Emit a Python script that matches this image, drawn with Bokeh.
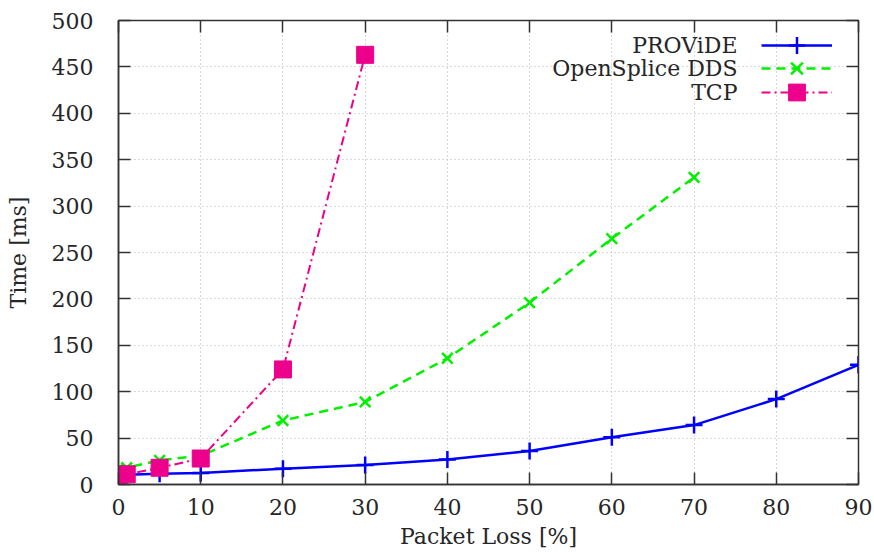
from bokeh.plotting import figure
from bokeh.models import (Range1d, FixedTicker, LinearAxis, Legend, LegendItem, Label,
                          CustomJSTickFormatter)
from bokeh.embed import file_html
from bokeh.resources import INLINE

# ---- data ----
loss_provide = [0, 1, 5, 10, 20, 30, 40, 50, 60, 70, 80, 90]
time_provide = [10, 10.5, 11.5, 12.5, 17, 21, 27, 36, 51, 64, 92, 129]

loss_ospl = [0, 1, 5, 10, 20, 30, 40, 50, 60, 70]
time_ospl = [17, 18, 26, 31, 69, 89, 136, 196, 265, 331]

loss_tcp = [0, 1, 5, 10, 20, 30]
time_tcp = [10, 11, 18, 28, 124, 463]

x_ticks = [0, 10, 20, 30, 40, 50, 60, 70, 80, 90]
y_ticks = [0, 50, 100, 150, 200, 250, 300, 350, 400, 450, 500]
series_names = ["PROViDE", "OpenSplice DDS", "TCP"]
x_title = "Packet Loss [%]"
y_title = "Time [ms]"

FONT = "DejaVu Serif"
FS = "22px"
TXT = "#262626"
AX = "#333333"

p = figure(width=874, height=552, output_backend="svg", toolbar_location=None,
           x_range=Range1d(0, 90), y_range=Range1d(0, 500),
           min_border_left=118, min_border_right=16, min_border_top=20,
           min_border_bottom=68)
p.background_fill_color = "white"
p.border_fill_color = "white"
p.outline_line_color = AX
p.outline_line_width = 1.5

for ax in (p.xaxis[0], p.yaxis[0]):
    ax.major_label_text_font = FONT
    ax.major_label_text_font_size = FS
    ax.major_label_text_color = TXT
    ax.axis_label_text_font = FONT
    ax.axis_label_text_font_size = FS
    ax.axis_label_text_font_style = "normal"
    ax.axis_label_text_color = TXT
    ax.major_tick_in = 12
    ax.major_tick_out = 0
    ax.minor_tick_line_color = None
    ax.major_tick_line_color = AX
    ax.major_tick_line_width = 1.5
    ax.axis_line_color = AX
    ax.axis_line_width = 1.5

p.xaxis[0].ticker = FixedTicker(ticks=x_ticks)
p.yaxis[0].ticker = FixedTicker(ticks=y_ticks)
p.xaxis[0].axis_label = x_title
p.yaxis[0].axis_label = y_title
p.xaxis[0].major_label_standoff = 14
p.xaxis[0].axis_label_standoff = 6
p.yaxis[0].major_label_standoff = 25
p.yaxis[0].axis_label_standoff = 18

# mirrored ticks on top and right
blank = CustomJSTickFormatter(code="return ''")
top = LinearAxis(ticker=FixedTicker(ticks=x_ticks), formatter=blank,
                 major_tick_in=12, major_tick_out=0, minor_tick_line_color=None,
                 major_tick_line_color=AX, major_tick_line_width=1.5,
                 axis_line_color=AX, major_label_standoff=0)
right = LinearAxis(ticker=FixedTicker(ticks=y_ticks), formatter=blank,
                   major_tick_in=12, major_tick_out=0, minor_tick_line_color=None,
                   major_tick_line_color=AX, major_tick_line_width=1.5,
                   axis_line_color=AX, major_label_standoff=0)
p.add_layout(top, "above")
p.add_layout(right, "right")

p.xgrid.ticker = FixedTicker(ticks=x_ticks)
p.ygrid.ticker = FixedTicker(ticks=y_ticks)
p.grid.grid_line_color = "#b4b4b4"
p.grid.grid_line_dash = "1 3"
p.grid.grid_line_width = 1

BLUE = "#0000ff"
GREEN = "#00f000"
MAG = "#ec008c"

l1 = p.line(loss_provide, time_provide, line_color=BLUE, line_width=2.5)
m1 = p.scatter(loss_provide, time_provide, marker="cross", size=17,
               line_color=BLUE, line_width=2.5)
l2 = p.line(loss_ospl, time_ospl, line_color=GREEN, line_width=2.5, line_dash="9 6")
m2 = p.scatter(loss_ospl, time_ospl, marker="x", size=15, line_color=GREEN, line_width=2.5)
l3 = p.line(loss_tcp, time_tcp, line_color=MAG, line_width=2, line_dash="9 4 2 4")
m3 = p.scatter(loss_tcp, time_tcp, marker="square", size=17, fill_color=MAG,
               line_color=MAG, line_width=1)

# one legend per row (glyph on the right of the right-aligned text)
row_renderers = [[l1, m1], [l2, m2], [l3, m3]]
for i, (name, rends) in enumerate(zip(series_names, row_renderers)):
    center = 439 - 23.3 * i          # row centre, px above the frame bottom
    leg = Legend(items=[LegendItem(label=" ", renderers=rends)],
                 location=(643, center - 21), glyph_width=71, glyph_height=42,
                 label_height=42, label_width=0, label_standoff=0,
                 label_text_font_size="22px", spacing=0, padding=0, margin=0,
                 border_line_color=None, background_fill_alpha=0)
    p.add_layout(leg, "center")
    p.add_layout(Label(x=619, y=center, x_units="screen", y_units="screen",
                       text=name, text_align="right", text_baseline="middle",
                       text_font=FONT, text_font_size=FS, text_color=TXT))

open("out.html", "w").write(file_html(p, INLINE))
